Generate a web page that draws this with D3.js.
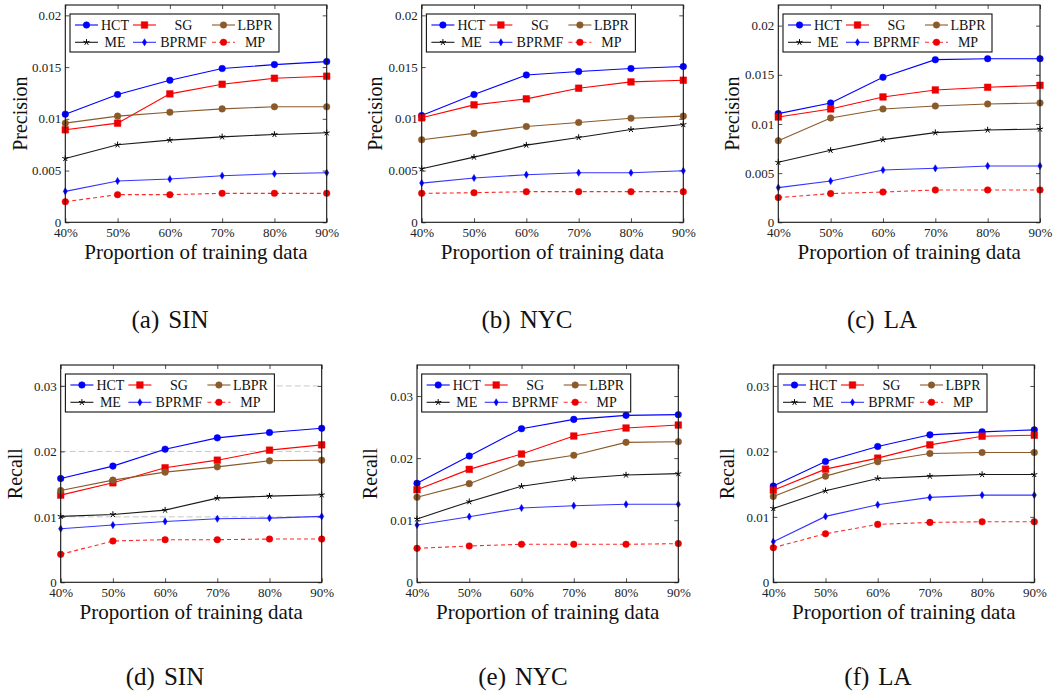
<!DOCTYPE html>
<html><head><meta charset="utf-8">
<script src="https://cdn.jsdelivr.net/npm/d3@7"></script>
<style>body{margin:0;background:#fff} svg{display:block;font-family:"Liberation Serif","Times New Roman",serif}</style>
</head><body><svg id="c" width="1054" height="695"></svg>
<script>
const categories = ["40%","50%","60%","70%","80%","90%"];
const methods = ["HCT","SG","LBPR","ME","BPRMF","MP"];
const precisionTicks = [0,0.005,0.01,0.015,0.02];
const recallTicks = [0,0.01,0.02,0.03];

// rows follow `methods`
const precisionSIN = [
 [0.01045,0.01235,0.01373,0.01486,0.01524,0.01553],
 [0.00894,0.00958,0.01241,0.01334,0.01392,0.01412],
 [0.00958,0.01026,0.01064,0.01096,0.01116,0.01116],
 [0.00617,0.00749,0.00794,0.00826,0.00849,0.00865],
 [0.00299,0.00399,0.00418,0.00450,0.00469,0.00479],
 [0.00199,0.00267,0.00267,0.00280,0.00280,0.00280]];
const precisionNYC = [
 [0.01032,0.01235,0.01424,0.01457,0.01486,0.01505],
 [0.01010,0.01135,0.01193,0.01296,0.01357,0.01373],
 [0.00797,0.00859,0.00926,0.00965,0.01006,0.01026],
 [0.00518,0.00630,0.00746,0.00820,0.00897,0.00945],
 [0.00379,0.00428,0.00460,0.00479,0.00479,0.00498],
 [0.00280,0.00286,0.00296,0.00296,0.00296,0.00296]];
const precisionLA = [
 [0.01105,0.01214,0.01475,0.01654,0.01664,0.01664],
 [0.01071,0.01153,0.01275,0.01346,0.01373,0.01393],
 [0.00830,0.01061,0.01153,0.01183,0.01203,0.01214],
 [0.00610,0.00732,0.00841,0.00912,0.00939,0.00949],
 [0.00353,0.00420,0.00532,0.00549,0.00573,0.00573],
 [0.00251,0.00292,0.00308,0.00329,0.00329,0.00329]];
const recallSIN = [
 [0.01586,0.01775,0.02034,0.02207,0.02288,0.02354],
 [0.01332,0.01520,0.01749,0.01866,0.02019,0.02100],
 [0.01403,0.01561,0.01683,0.01764,0.01856,0.01866],
 [0.01007,0.01037,0.01103,0.01286,0.01317,0.01337],
 [0.00819,0.00875,0.00930,0.00971,0.00981,0.01007],
 [0.00427,0.00631,0.00651,0.00651,0.00661,0.00661]];
const recallNYC = [
 [0.01594,0.02034,0.02474,0.02624,0.02689,0.02700],
 [0.01492,0.01819,0.02066,0.02356,0.02485,0.02533],
 [0.01369,0.01589,0.01916,0.02045,0.02254,0.02265],
 [0.01020,0.01299,0.01546,0.01669,0.01728,0.01750],
 [0.00923,0.01057,0.01197,0.01234,0.01256,0.01256],
 [0.00547,0.00585,0.00612,0.00612,0.00612,0.00623]];
const recallLA = [
 [0.01470,0.01846,0.02075,0.02253,0.02298,0.02329],
 [0.01408,0.01729,0.01897,0.02100,0.02232,0.02247],
 [0.01312,0.01622,0.01841,0.01968,0.01983,0.01983],
 [0.01129,0.01398,0.01586,0.01622,0.01647,0.01647],
 [0.00620,0.01007,0.01185,0.01297,0.01332,0.01332],
 [0.00529,0.00742,0.00885,0.00915,0.00925,0.00925]];

const panels = [
 {data:precisionSIN, ticks:precisionTicks, yMax:0.021, ylabel:"Precision", tag:"(a)", name:"SIN", x0:65.3, x1:326.7, y0:5, y1:222.3, labX:20, capX:170, capY:328, grid:false},
 {data:precisionNYC, ticks:precisionTicks, yMax:0.021, ylabel:"Precision", tag:"(b)", name:"NYC", x0:421.7, x1:683.3, y0:5, y1:222.3, labX:375, capX:527, capY:328, grid:false},
 {data:precisionLA, ticks:precisionTicks, yMax:0.0221, ylabel:"Precision", tag:"(c)", name:"LA", x0:778.3, x1:1040, y0:5, y1:222.3, labX:731.5, capX:882, capY:328, grid:false},
 {data:recallSIN, ticks:recallTicks, yMax:0.0332, ylabel:"Recall", tag:"(d)", name:"SIN", x0:60.7, x1:321.7, y0:365, y1:582.3, labX:15, capX:165, capY:685, grid:true},
 {data:recallNYC, ticks:recallTicks, yMax:0.035, ylabel:"Recall", tag:"(e)", name:"NYC", x0:417, x1:678.3, y0:365, y1:582.3, labX:370, capX:523, capY:685, grid:false},
 {data:recallLA, ticks:recallTicks, yMax:0.0332, ylabel:"Recall", tag:"(f)", name:"LA", x0:773.3, x1:1034.3, y0:365, y1:582.3, labX:726.5, capX:878, capY:685, grid:false}
];

const styles = {
 HCT:{line:"#0000ff", fill:"#0000ff", mark:"circle", dash:null},
 SG:{line:"#ff0000", fill:"#ee0000", mark:"square", dash:null},
 LBPR:{line:"#8a5a2b", fill:"#8a5a2b", mark:"circle", dash:null},
 ME:{line:"#1a1a1a", fill:"#000000", mark:"star", dash:null},
 BPRMF:{line:"#3535ff", fill:"#0000ff", mark:"diamond", dash:null},
 MP:{line:"#ff2a2a", fill:"#ee0000", mark:"circle", dash:"4,3"}
};

function markPath(kind){
  if(kind==="circle") return d3.symbol(d3.symbolCircle, 34)();
  if(kind==="square") return d3.symbol(d3.symbolSquare, 44)();
  if(kind==="diamond") return d3.symbol(d3.symbolDiamond, 15)();
  // five-spoke star
  let p="";
  for(let k=0;k<5;k++){
    const a=-Math.PI/2 + k*2*Math.PI/5, r=3.2;
    p+=`M0,0L${(r*Math.cos(a)).toFixed(2)},${(r*Math.sin(a)).toFixed(2)}`;
  }
  return p;
}
function drawMark(g, kind, st, x, y){
  const el = g.append("path").attr("d", markPath(kind)).attr("transform",`translate(${x},${y})`);
  if(kind==="star") el.attr("fill","none").attr("stroke",st.fill).attr("stroke-width",1);
  else el.attr("fill",st.fill).attr("stroke",st.fill).attr("stroke-width",0.5);
}

const svg = d3.select("#c");

panels.forEach(P=>{
  const g = svg.append("g");
  const x = d3.scalePoint().domain(categories).range([P.x0,P.x1]).padding(0);
  const y = d3.scaleLinear().domain([0,P.yMax]).range([P.y1,P.y0]);

  if(P.grid){
    g.append("g").selectAll("line").data(P.ticks.filter(t=>t>0)).join("line")
      .attr("x1",P.x0).attr("x2",P.x1).attr("y1",d=>y(d)).attr("y2",d=>y(d))
      .attr("stroke","#c8c8c8").attr("stroke-width",1).attr("stroke-dasharray","6,3");
  }

  // axes with inward ticks
  const ax = g.append("g").attr("class","axes");
  const fmt = d=> d===0 ? "0" : String(d);
  const left = ax.append("g").attr("transform",`translate(${P.x0},0)`)
     .call(d3.axisLeft(y).tickValues(P.ticks).tickFormat(fmt).tickSize(-4).tickPadding(4));
  const right = ax.append("g").attr("transform",`translate(${P.x1},0)`)
     .call(d3.axisRight(y).tickValues(P.ticks).tickFormat("").tickSize(-4));
  const bottom = ax.append("g").attr("transform",`translate(0,${P.y1})`)
     .call(d3.axisBottom(x).tickSize(-4).tickPadding(5));
  const top = ax.append("g").attr("transform",`translate(0,${P.y0})`)
     .call(d3.axisTop(x).tickFormat("").tickSize(-4));
  ax.selectAll(".domain").remove();
  ax.selectAll(".tick line").attr("stroke","#222").attr("stroke-width",0.8);
  ax.selectAll(".tick text").attr("font-family","Liberation Serif").attr("font-size",13).attr("fill","#222");

  // series
  methods.forEach((m,i)=>{
    const st = styles[m];
    const vals = P.data[i];
    const line = d3.line().x((d,j)=>x(categories[j])).y(d=>y(d));
    g.append("path").datum(vals).attr("d",line).attr("fill","none")
      .attr("stroke",st.line).attr("stroke-width",1.1)
      .attr("stroke-dasharray",st.dash);
    vals.forEach((v,j)=>drawMark(g, st.mark, st, x(categories[j]), y(v)));
  });

  // frame
  g.append("rect").attr("x",P.x0).attr("y",P.y0).attr("width",P.x1-P.x0).attr("height",P.y1-P.y0)
    .attr("fill","none").attr("stroke","#111").attr("stroke-width",1.1);

  // legend
  const L = g.append("g").attr("transform",`translate(${P.x0+4.7},${P.y0+9})`);
  L.append("rect").attr("width",209).attr("height",38).attr("fill","#fff").attr("stroke","#111").attr("stroke-width",1.1);
  const colLine=[5,63,142], colText=[45,113.5,185], rowY=[11,28.3];
  methods.forEach((m,i)=>{
    const st=styles[m], c=i%3, r=Math.floor(i/3);
    L.append("line").attr("x1",colLine[c]).attr("x2",colLine[c]+23).attr("y1",rowY[r]).attr("y2",rowY[r])
      .attr("stroke",st.line).attr("stroke-width",1.1).attr("stroke-dasharray",st.dash);
    drawMark(L, st.mark, st, colLine[c]+11.5, rowY[r]);
    L.append("text").attr("x",colText[c]).attr("y",rowY[r]).attr("dy","0.35em")
      .attr("text-anchor","middle").attr("font-size",14).attr("fill","#111").text(m);
  });

  // axis titles
  g.append("text").attr("x",(P.x0+P.x1)/2).attr("y",P.y1+36.5).attr("text-anchor","middle")
    .attr("font-size",21).attr("fill","#111").text("Proportion of training data");
  g.append("text").attr("transform",`translate(${P.labX},${(P.y0+P.y1)/2}) rotate(-90)`)
    .attr("dy","0.35em").attr("text-anchor","middle").attr("font-size",20).attr("fill","#111").text(P.ylabel);

  // caption
  const cap = g.append("text").attr("x",P.capX).attr("y",P.capY).attr("text-anchor","middle")
    .attr("font-size",25).attr("fill","#111");
  cap.append("tspan").text(P.tag);
  cap.append("tspan").attr("dx",9).text(P.name);
});
</script></body></html>
